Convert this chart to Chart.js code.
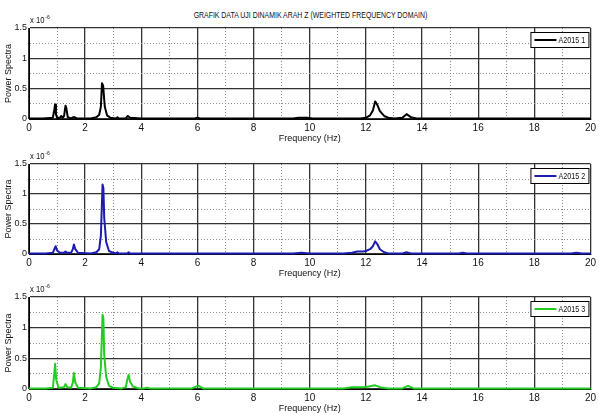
<!DOCTYPE html>
<html>
<head>
<meta charset="utf-8">
<script src="https://cdn.jsdelivr.net/npm/chart.js@4"></script>
<style>
  html, body { margin: 0; padding: 0; background: #fff; overflow: hidden; }
  body { width: 599px; height: 414px; position: relative; }
  #title {
    position: absolute; left: 11px; width: 599px; top: 10px; text-align: center;
    font: 9px "Liberation Sans", Arial, sans-serif; color: #111;
    transform: scaleX(0.77); transform-origin: 50% 0;
  }
  .panel { position: absolute; left: 0; width: 599px; }
</style>
</head>
<body>
<div id="title">GRAFIK DATA UJI DINAMIK ARAH Z (WEIGHTED FREQUENCY DOMAIN)</div>
<canvas id="p1" class="panel"></canvas>
<canvas id="p2" class="panel"></canvas>
<canvas id="p3" class="panel"></canvas>
<script>
// power spectra values are in units of 1e-6
const freq1 = [0, 0.5, 0.85, 0.9, 0.93, 0.96, 1.0, 1.1, 1.15, 1.2, 1.25, 1.3, 1.33, 1.38, 1.5, 1.58, 1.62, 1.7,
  2.2, 2.4, 2.5, 2.56, 2.6, 2.64, 2.7, 2.78, 2.9, 3.1, 3.15, 3.2, 3.45, 3.52, 3.6, 4.0, 5.9, 6.0, 6.1,
  9.4, 9.6, 9.9, 10.1, 11.8, 12.0, 12.15, 12.25, 12.33, 12.4, 12.5, 12.65, 12.8, 13.0, 13.3, 13.45, 13.6, 13.8, 16, 20];
const power1 = [0.01, 0.01, 0.02, 0.15, 0.24, 0.08, 0.02, 0.02, 0.05, 0.02, 0.05, 0.22, 0.18, 0.03, 0.01, 0.03, 0.03, 0.01,
  0.01, 0.03, 0.07, 0.2, 0.59, 0.55, 0.2, 0.06, 0.02, 0.01, 0.03, 0.01, 0.01, 0.05, 0.02, 0.01, 0.01, 0.02, 0.01,
  0.01, 0.02, 0.02, 0.01, 0.01, 0.02, 0.06, 0.14, 0.29, 0.24, 0.13, 0.05, 0.02, 0.01, 0.02, 0.08, 0.03, 0.01, 0.01, 0.01];

const freq2 = [0, 0.6, 0.85, 0.92, 0.95, 1.0, 1.1, 1.25, 1.3, 1.36, 1.5, 1.56, 1.6, 1.65, 1.75,
  2.2, 2.4, 2.5, 2.56, 2.62, 2.65, 2.68, 2.75, 2.85, 3.0, 3.1, 3.15, 3.2, 3.5, 3.55, 3.6, 4,
  9.4, 9.7, 10, 11.2, 11.5, 11.7, 11.9, 12.0, 12.15, 12.25, 12.33, 12.4, 12.5, 12.65, 12.8,
  13.3, 13.45, 13.6, 15.3, 15.45, 15.6, 19.3, 19.5, 19.7, 20];
const power2 = [0.01, 0.01, 0.02, 0.10, 0.13, 0.06, 0.02, 0.02, 0.04, 0.02, 0.02, 0.08, 0.16, 0.08, 0.02,
  0.01, 0.03, 0.08, 0.30, 1.16, 1.10, 0.60, 0.20, 0.05, 0.02, 0.01, 0.03, 0.01, 0.01, 0.03, 0.01, 0.01,
  0.01, 0.02, 0.01, 0.01, 0.02, 0.04, 0.04, 0.05, 0.08, 0.13, 0.21, 0.17, 0.08, 0.03, 0.01,
  0.01, 0.03, 0.01, 0.01, 0.02, 0.01, 0.01, 0.02, 0.01, 0.01];

const freq3 = [0, 0.6, 0.85, 0.9, 0.93, 0.97, 1.05, 1.25, 1.3, 1.36, 1.5, 1.56, 1.6, 1.65, 1.75,
  2.2, 2.4, 2.5, 2.56, 2.62, 2.65, 2.68, 2.75, 2.85, 3.0, 3.3, 3.45, 3.5, 3.55, 3.6, 3.7, 3.9,
  4.1, 4.2, 4.3, 5.8, 5.95, 6.05, 6.2, 11.2, 11.5, 11.9, 12.1, 12.33, 12.5, 12.8, 13.3, 13.5, 13.7, 20];
const power3 = [0.01, 0.01, 0.02, 0.25, 0.41, 0.15, 0.02, 0.03, 0.08, 0.03, 0.02, 0.10, 0.26, 0.10, 0.02,
  0.01, 0.03, 0.09, 0.35, 1.21, 1.15, 0.55, 0.20, 0.05, 0.02, 0.01, 0.03, 0.15, 0.23, 0.12, 0.04, 0.01,
  0.01, 0.02, 0.01, 0.01, 0.04, 0.05, 0.01, 0.01, 0.03, 0.03, 0.04, 0.06, 0.03, 0.01, 0.01, 0.05, 0.01, 0.01];

const seriesLabels = ['A2015 1', 'A2015 2', 'A2015 3'];
const seriesColors = ['#000000', '#1c1cb0', '#22cc22'];
const xTicksLabelled = [0, 2, 4, 6, 8, 10, 12, 14, 16, 18, 20];
const yTicksLabelled = [0, 0.5, 1, 1.5];
const xTitle = 'Frequency (Hz)';
const yTitle = 'Power Spectra';
const exponentText = ['x 10', '-6'];

const panels = [
  { id: 'p1', freq: freq1, power: power1, top: 28, bottom: 119 },
  { id: 'p2', freq: freq2, power: power2, top: 164, bottom: 254 },
  { id: 'p3', freq: freq3, power: power3, top: 297, bottom: 389 }
];

const FONT = '"Liberation Sans", Arial, sans-serif';

// boxed legend in the upper right + the "x 10^-6" factor
const extrasPlugin = {
  id: 'extras',
  afterDraw(chart) {
    const { ctx, chartArea } = chart;
    const ds = chart.data.datasets[0];
    ctx.save();
    // exponent
    ctx.fillStyle = '#111';
    ctx.textBaseline = 'alphabetic';
    ctx.font = '9px ' + FONT;
    ctx.save();
    ctx.translate(chartArea.left + 1, chartArea.top - 5);
    ctx.scale(0.85, 1);
    ctx.fillText(exponentText[0], 0, 0);
    const w = ctx.measureText(exponentText[0]).width;
    ctx.font = '6px ' + FONT;
    ctx.fillText(exponentText[1], w + 1, -4);
    ctx.restore();
    // legend
    const bx = chartArea.right - 60, by = chartArea.top + 4, bw = 59, bh = 16;
    ctx.fillStyle = '#fff';
    ctx.fillRect(bx, by, bw, bh);
    ctx.strokeStyle = '#000';
    ctx.lineWidth = 1;
    ctx.strokeRect(bx + 0.5, by + 0.5, bw - 1, bh - 1);
    ctx.strokeStyle = ds.borderColor;
    ctx.lineWidth = 2;
    ctx.beginPath();
    ctx.moveTo(bx + 4, by + bh / 2);
    ctx.lineTo(bx + 26, by + bh / 2);
    ctx.stroke();
    ctx.fillStyle = '#111';
    ctx.font = '9px ' + FONT;
    ctx.textBaseline = 'middle';
    ctx.translate(bx + 28, by + bh / 2 + 0.5);
    ctx.scale(0.8, 1);
    ctx.fillText(ds.label, 0, 0);
    ctx.restore();
  }
};

const isMajorX = v => xTicksLabelled.includes(v);
const isMajorY = v => yTicksLabelled.some(t => Math.abs(t - v) < 1e-9);

panels.forEach((p, i) => {
  const canvas = document.getElementById(p.id);
  const h = (p.bottom - p.top) + 28 + 26;
  canvas.style.top = (p.top - 28) + 'px';
  canvas.style.height = h + 'px';
  canvas.width = 599;
  canvas.height = h;

  new Chart(canvas, {
    type: 'line',
    data: {
      datasets: [{
        label: seriesLabels[i],
        data: p.freq.map((f, k) => ({ x: f, y: p.power[k] })),
        borderColor: seriesColors[i],
        backgroundColor: seriesColors[i],
        borderWidth: 2,
        borderJoinStyle: 'round',
        pointRadius: 0,
        tension: 0,
        clip: 4
      }]
    },
    options: {
      responsive: false,
      animation: false,
      layout: { padding: { top: 28, right: 5, bottom: 0, left: 0 } },
      plugins: { legend: { display: false }, tooltip: { enabled: false } },
      scales: {
        x: {
          type: 'linear', min: 0, max: 20,
          afterFit: s => { s.height = 26; },
          ticks: {
            stepSize: 1, autoSkip: false, maxRotation: 0, padding: 3,
            color: '#111', font: { family: FONT, size: 10 },
            callback: v => isMajorX(v) ? String(v) : ''
          },
          grid: {
            drawTicks: false,
            color: c => c.tick && isMajorX(c.tick.value) ? '#333' : '#8a8a8a',
            lineWidth: c => c.tick && isMajorX(c.tick.value) ? 1.3 : 1
          },
          border: {
            color: '#000',
            dash: c => (c.tick && !isMajorX(c.tick.value)) ? [1, 2] : []
          },
          title: {
            display: true, text: xTitle, color: '#111',
            font: { family: FONT, size: 9 }, padding: { top: 0, bottom: 1 }
          }
        },
        y: {
          type: 'linear', min: 0, max: 1.5,
          afterFit: s => { s.width = 29; },
          ticks: {
            stepSize: 0.25, autoSkip: false, padding: 2,
            color: '#111', font: { family: FONT, size: 9 },
            callback: v => isMajorY(v) ? String(v) : ''
          },
          grid: {
            drawTicks: false,
            color: c => c.tick && isMajorY(c.tick.value) ? '#333' : '#8a8a8a',
            lineWidth: c => c.tick && isMajorY(c.tick.value) ? 1.3 : 1
          },
          border: {
            color: '#000',
            dash: c => (c.tick && !isMajorY(c.tick.value)) ? [1, 2] : []
          },
          title: {
            display: true, text: yTitle, color: '#111',
            font: { family: FONT, size: 9 }, padding: { top: 3, bottom: 0 }
          }
        }
      }
    },
    plugins: [extrasPlugin]
  });
});
</script>
</body>
</html>
